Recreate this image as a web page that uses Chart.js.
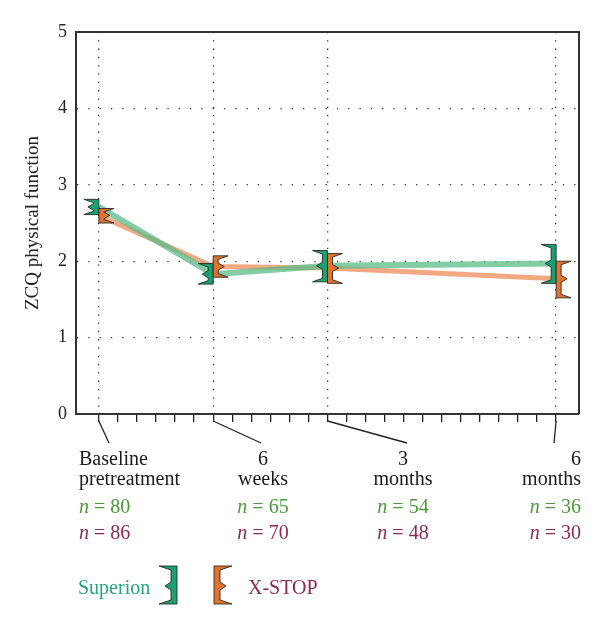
<!DOCTYPE html>
<html>
<head>
<meta charset="utf-8">
<script src="https://cdn.jsdelivr.net/npm/chart.js"></script>
<style>
html, body { margin: 0; padding: 0; background: #fff; }
</style>
</head>
<body>
<canvas id="myChart" width="600" height="626"></canvas>
<script>
// values (x in weeks after treatment)
const weeks = [0, 6, 12, 24];
const categories = [['Baseline', 'pretreatment'], ['6', 'weeks'], ['3', 'months'], ['6', 'months']];
const superionMean = [2.71, 1.83, 1.94, 1.97];
const superionLow  = [2.61, 1.70, 1.73, 1.71];
const superionHigh = [2.81, 1.97, 2.14, 2.22];
const xstopMean = [2.60, 1.93, 1.91, 1.77];
const xstopLow  = [2.50, 1.79, 1.71, 1.52];
const xstopHigh = [2.69, 2.07, 2.10, 2.00];
const superionN = [80, 65, 54, 36];
const xstopN    = [86, 70, 48, 30];
const yTicks = [0, 1, 2, 3, 4, 5];
const weekTicks = [];
for (let w = 0; w <= 24; w++) weekTicks.push(w);

const SERIF = '"Liberation Serif", "DejaVu Serif", serif';
const GREEN_FILL = '#19a270';
const ORANGE_FILL = '#e2722c';

// label layout under the axis
const colX = [79, 263, 403, 581];
const colAlign = ['left', 'center', 'center', 'right'];
const leaderEnd = [109, 261, 407, 554];

// bracket shaped error marker; dir -1 opens to the left, +1 to the right
function drawMarker(ctx, x0, yMean, yLo, yHi, dir, fill, bar, serif, notch, taper) {
  const b = x0 + dir * bar, s = x0 + dir * serif, n = x0 + dir * notch;
  ctx.beginPath();
  ctx.moveTo(x0, yHi);
  ctx.lineTo(s, yHi);
  ctx.lineTo(b, yHi + taper);
  ctx.lineTo(b, yMean - taper);
  ctx.lineTo(n, yMean);
  ctx.lineTo(b, yMean + taper);
  ctx.lineTo(b, yLo - taper);
  ctx.lineTo(s, yLo);
  ctx.lineTo(x0, yLo);
  ctx.closePath();
  ctx.fillStyle = fill;
  ctx.fill();
  ctx.strokeStyle = '#2a2a2a';
  ctx.lineWidth = 0.9;
  ctx.stroke();
}

function drawText(ctx, str, x, y, align) {
  ctx.textAlign = align;
  ctx.fillText(str, x, y);
}

// "n = 80" with italic n
function drawN(ctx, num, x, y, align, color) {
  ctx.fillStyle = color;
  ctx.font = 'italic 20px ' + SERIF;
  const wn = ctx.measureText('n').width;
  ctx.font = '20px ' + SERIF;
  const rest = ' = ' + num;
  const wr = ctx.measureText(rest).width;
  let left = x;
  if (align === 'center') left = x - (wn + wr) / 2;
  if (align === 'right') left = x - (wn + wr);
  ctx.textAlign = 'left';
  ctx.font = 'italic 20px ' + SERIF;
  ctx.fillText('n', left, y);
  ctx.font = '20px ' + SERIF;
  ctx.fillText(rest, left + wn, y);
}

const extras = {
  id: 'extras',
  afterDatasetsDraw(chart) {
    const ctx = chart.ctx;
    const xs = chart.scales.x, ys = chart.scales.y;
    const area = chart.chartArea;
    ctx.save();
    // markers
    for (let i = 0; i < weeks.length; i++) {
      const x0 = xs.getPixelForValue(weeks[i]);
      drawMarker(ctx, x0, ys.getPixelForValue(superionMean[i]), ys.getPixelForValue(superionLow[i]),
        ys.getPixelForValue(superionHigh[i]), -1, GREEN_FILL, 5, 15, 11, 3.5);
      drawMarker(ctx, x0, ys.getPixelForValue(xstopMean[i]), ys.getPixelForValue(xstopLow[i]),
        ys.getPixelForValue(xstopHigh[i]), 1, ORANGE_FILL, 5, 15, 11, 3.5);
    }
    // top and right frame
    ctx.strokeStyle = '#333';
    ctx.lineWidth = 2;
    ctx.beginPath();
    ctx.moveTo(area.left, area.top);
    ctx.lineTo(area.right, area.top);
    ctx.lineTo(area.right, area.bottom);
    ctx.stroke();

    // leader lines and category labels
    ctx.strokeStyle = '#222';
    ctx.lineWidth = 1.3;
    for (let i = 0; i < weeks.length; i++) {
      const x0 = xs.getPixelForValue(weeks[i]);
      ctx.beginPath();
      ctx.moveTo(x0, area.bottom + 7);
      ctx.lineTo(leaderEnd[i], area.bottom + 29);
      ctx.stroke();

      ctx.fillStyle = '#1a1a1a';
      ctx.font = '20px ' + SERIF;
      drawText(ctx, categories[i][0], colX[i], 465, colAlign[i]);
      drawText(ctx, categories[i][1], colX[i], 485, colAlign[i]);
      drawN(ctx, superionN[i], colX[i], 513, colAlign[i], '#4b9a3c');
      drawN(ctx, xstopN[i], colX[i], 539, colAlign[i], '#8c2a54');
    }

    // legend
    ctx.font = '20px ' + SERIF;
    ctx.fillStyle = '#24a47a';
    drawText(ctx, 'Superion', 78, 594, 'left');
    drawMarker(ctx, 177, 586, 604, 566, -1, GREEN_FILL, 6, 18, 12, 4);
    drawMarker(ctx, 214, 586, 604, 566, 1, ORANGE_FILL, 6, 18, 12, 4);
    ctx.fillStyle = '#8b2a4f';
    drawText(ctx, 'X-STOP', 248, 594, 'left');
    ctx.restore();
  }
};

const ctx = document.getElementById('myChart');

new Chart(ctx, {
  type: 'line',
  data: {
    datasets: [{
      label: 'Superion',
      data: weeks.map((w, i) => ({ x: w, y: superionMean[i] })),
      borderColor: 'rgba(90,188,136,0.75)',
      borderWidth: 6,
      pointRadius: 0,
      tension: 0
    }, {
      label: 'X-STOP',
      data: weeks.map((w, i) => ({ x: w, y: xstopMean[i] })),
      borderColor: 'rgba(236,140,90,0.75)',
      borderWidth: 5,
      pointRadius: 0,
      tension: 0
    }]
  },
  options: {
    responsive: false,
    animation: false,
    devicePixelRatio: 1,
    layout: { padding: { top: 32, right: 21, left: 0, bottom: 0 } },
    plugins: { legend: { display: false }, tooltip: { enabled: false } },
    scales: {
      x: {
        type: 'linear',
        min: -1.2,
        max: 25.2,
        afterBuildTicks: (scale) => { scale.ticks = weekTicks.map(v => ({ value: v })); },
        afterFit: (scale) => { scale.height = 212; },
        ticks: { display: false },
        grid: {
          color: (c) => weeks.includes(c.tick && c.tick.value) ? '#333' : 'rgba(0,0,0,0)',
          lineWidth: 1.3,
          tickLength: 8,
          tickColor: '#222',
          tickWidth: 1.3
        },
        border: { display: true, color: '#333', width: 2, dash: [1.3, 7] }
      },
      y: {
        min: 0,
        max: 5,
        afterBuildTicks: (scale) => { scale.ticks = yTicks.map(v => ({ value: v })); },
        afterFit: (scale) => { scale.width = 76; },
        ticks: { color: '#222', padding: 9, font: { family: SERIF, size: 18 } },
        grid: {
          drawTicks: false,
          color: (c) => (c.tick && (c.tick.value === 0 || c.tick.value === 5)) ? 'rgba(0,0,0,0)' : '#333',
          lineWidth: 1.3
        },
        border: { display: true, color: '#333', width: 2, dash: [1.3, 10] },
        title: {
          display: true,
          text: 'ZCQ physical function',
          color: '#222',
          font: { family: SERIF, size: 19 },
          padding: { top: 22, bottom: 0 }
        }
      }
    }
  },
  plugins: [extras]
});
</script>
</body>
</html>
